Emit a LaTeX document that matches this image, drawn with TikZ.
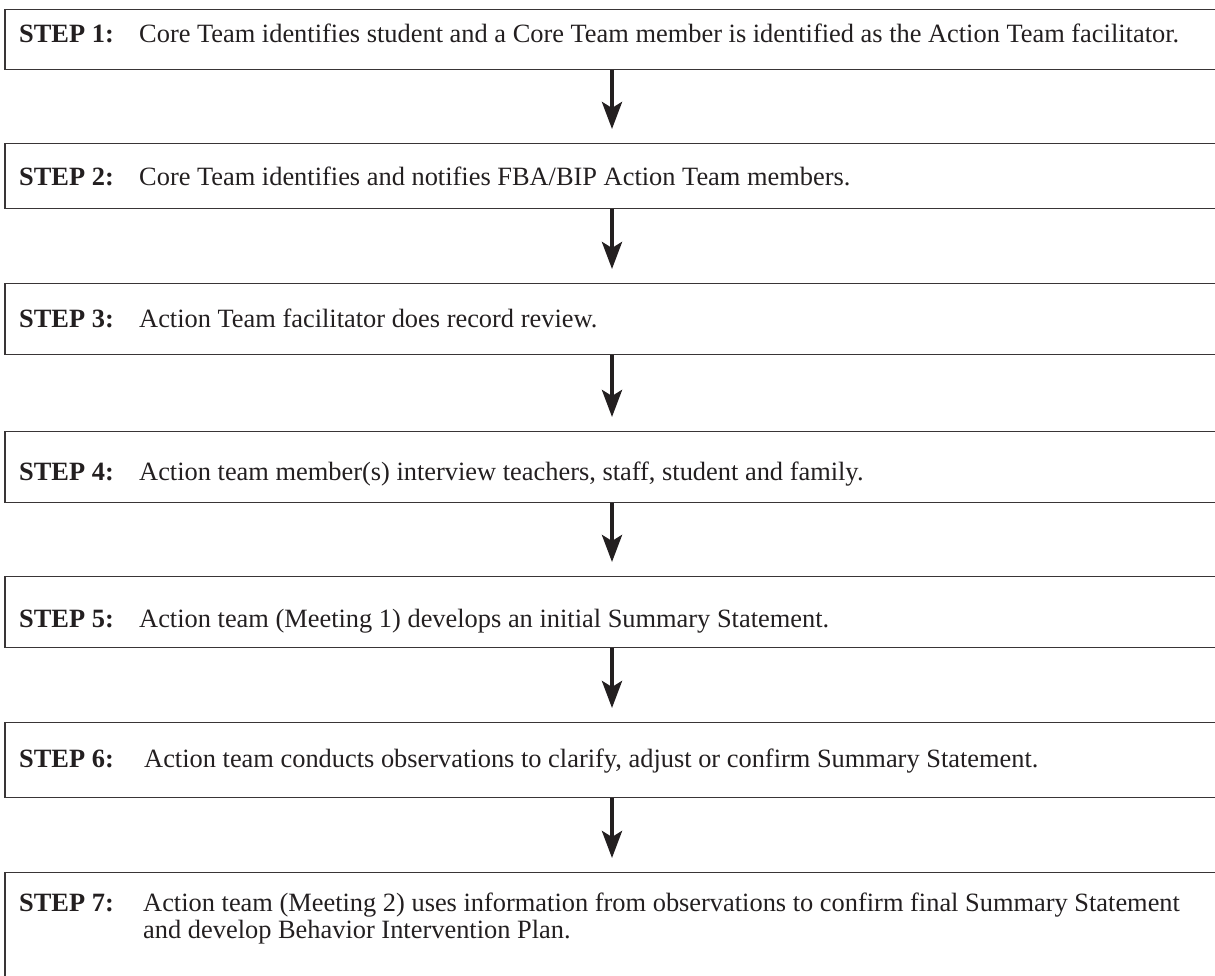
\documentclass[tikz,border=0pt]{standalone}
\usepackage{fontspec}
\setmainfont{Liberation Serif}
\usetikzlibrary{arrows.meta}
\definecolor{ink}{HTML}{231F20}
\tikzset{
  x=1pt,y=-1pt,
  stepbox/.style={draw=ink!90,line width=1.3pt,rectangle,inner sep=0pt,minimum width=1214pt,anchor=north},
  steplabel/.style={anchor=base west,inner sep=0pt,text=ink,font=\fontsize{26.4}{27.5}\selectfont\bfseries},
  steptext/.style={anchor=base west,inner sep=0pt,text=ink,font=\fontsize{26.4}{27.5}\selectfont},
  flow/.style={draw=ink,line width=4.2pt,-{Stealth[length=27pt,width=20pt,inset=6pt]},shorten >=14pt}
}
\begin{document}
\begin{tikzpicture}
\useasboundingbox (0,0) rectangle (1215,975);
\clip (0,0) rectangle (1215,975);
\node[stepbox,minimum height=60pt] (b1) at (612,9) {};
\node[stepbox,minimum height=65pt] (b2) at (612,143) {};
\node[stepbox,minimum height=71pt] (b3) at (612,283) {};
\node[stepbox,minimum height=71pt] (b4) at (612,431) {};
\node[stepbox,minimum height=71pt] (b5) at (612,576) {};
\node[stepbox,minimum height=75pt] (b6) at (612,722) {};
\node[stepbox,minimum height=140pt] (b7) at (612,872) {};

\node[steplabel] (l1) at (19,42) {STEP 1:};
\node[steptext] (t1) at (139,42) {Core Team identifies student and a Core Team member is identified as the Action Team facilitator.};
\node[steplabel] (l2) at (19,185) {STEP 2:};
\node[steptext] (t2) at (139,185) {Core Team identifies and notifies FBA/BIP Action Team members.};
\node[steplabel] (l3) at (19,327) {STEP 3:};
\node[steptext] (t3) at (139,327) {Action Team facilitator does record review.};
\node[steplabel] (l4) at (19,480) {STEP 4:};
\node[steptext] (t4) at (139,480) {Action team member(s) interview teachers, staff, student and family.};
\node[steplabel] (l5) at (19,627) {STEP 5:};
\node[steptext] (t5) at (139,627) {Action team (Meeting 1) develops an initial Summary Statement.};
\node[steplabel] (l6) at (19,767) {STEP 6:};
\node[steptext] (t6) at (144,767) {Action team conducts observations to clarify, adjust or confirm Summary Statement.};
\node[steplabel] (l7) at (19,911) {STEP 7:};
\node[steptext] (t7) at (143,911) {\parbox[t]{1060pt}{\raggedright Action team (Meeting 2) uses information from observations to confirm final Summary Statement\\and develop Behavior Intervention Plan.}};

\draw[flow] (b1.south) -- (b2.north);
\draw[flow] (b2.south) -- (b3.north);
\draw[flow] (b3.south) -- (b4.north);
\draw[flow] (b4.south) -- (b5.north);
\draw[flow] (b5.south) -- (b6.north);
\draw[flow] (b6.south) -- (b7.north);
\end{tikzpicture}
\end{document}
